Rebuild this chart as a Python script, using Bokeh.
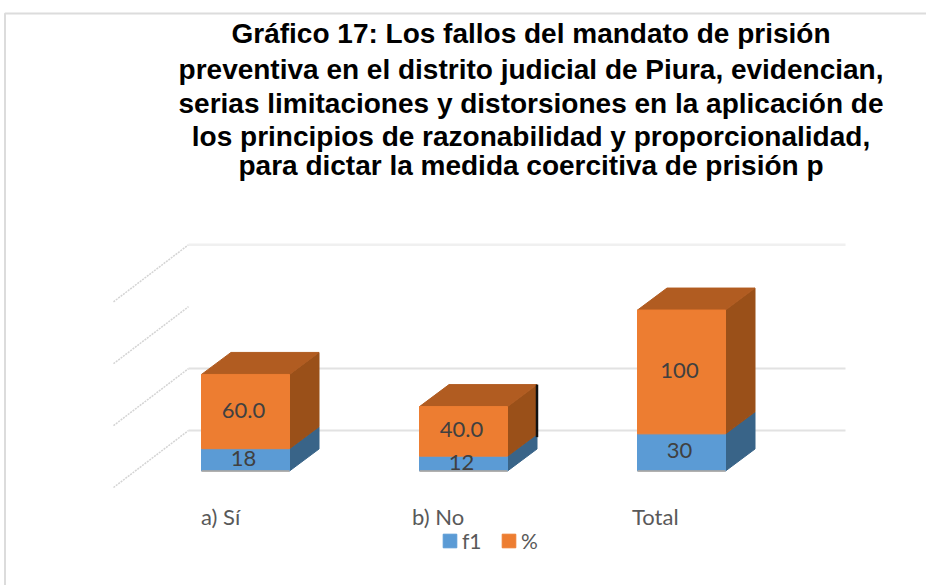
from bokeh.plotting import figure
from bokeh.models import ColumnDataSource, Legend, LegendItem
from bokeh.core.properties import value
from bokeh.embed import file_html
from bokeh.resources import INLINE

title_lines = [
    "Gráfico 17: Los fallos del mandato de prisión",
    "preventiva en el distrito judicial de Piura, evidencian,",
    "serias limitaciones y distorsiones en la aplicación de",
    "los principios de razonabilidad y proporcionalidad,",
    "para dictar la medida coercitiva de prisión p",
]
categories = ["a) Sí", "b) No", "Total"]
f1 = [18, 12, 30]
pct = [60.0, 40.0, 100]
f1_labels = ["18", "12", "30"]
pct_labels = ["60.0", "40.0", "100"]
wall_ticks = [0, 50, 100, 150]
wall_lines = [0, 50, 150]

W, H = 926, 585
X0, SX = 245.0, 218.0      # page px of first category, px per category
Y0, SY = 470.5, 1.238      # page px of value 0 on the front plane, px per unit
def dx(px): return px / SX
def dy(px): return px / SY
def X(px): return (px - X0) / SX
def Y(py): return (Y0 - py) / SY

p = figure(width=W, height=H, output_backend="svg", toolbar_location=None,
           x_range=(X(0), X(W)), y_range=(Y(H), Y(0)), min_border=0)
p.axis.visible = False
p.grid.visible = False
p.outline_line_color = None
p.background_fill_color = "white"

# chart frame
p.line([X(926), X(4.5), X(4.5)], [Y(13), Y(13), Y(585)], line_color="#dcdcdc", line_width=2)

# 3D wall
wall = dy(40.5)
for v in wall_ticks:
    p.line([X(113), X(188)], [v + wall - dy(57), v + wall], line_color="#d4d4d4",
           line_width=1.5, line_dash="2 1")
for v in wall_lines:
    col = "#f0f0f0" if v == 150 else "#e2e2e2"
    p.line([X(188), X(845)], [v + wall, v + wall], line_color=col, line_width=2.5 if v == 150 else 2)

half = dx(44)
ddx, ddy = dx(29.5), dy(22)
idx = list(range(len(categories)))

def side(i, a, b):
    r = i + half
    return [r, r + ddx, r + ddx, r], [a, a + ddy, b + ddy, b]
def top(i, b):
    l, r = i - half, i + half
    return [l, l + ddx, r + ddx, r], [b, b + ddy, b + ddy, b]

blue_side = [side(i, 0, f1[i]) for i in idx]
or_side = [side(i, f1[i], f1[i] + pct[i]) for i in idx]
tops = [top(i, f1[i] + pct[i]) for i in idx]
p.patches([s[0] for s in blue_side], [s[1] for s in blue_side], fill_color="#396488", line_color="#396488")
p.patches([s[0] for s in or_side], [s[1] for s in or_side], fill_color="#9A5019", line_color="#9A5019")
p.patches([s[0] for s in tops], [s[1] for s in tops], fill_color="#B15C21", line_color="#B15C21")

# artefact on the back edge of the middle column
p.line([1 + half + ddx] * 2, [f1[1] + ddy - dy(3), f1[1] + pct[1] + ddy], line_color="#111111", line_width=2.5)

src = ColumnDataSource(dict(x=idx, f1=f1, pct=pct, tot=[a + b for a, b in zip(f1, pct)],
                            f1_mid=[a / 2 for a in f1],
                            pct_mid=[a + b / 2 for a, b in zip(f1, pct)],
                            f1_lab=f1_labels, pct_lab=pct_labels))
r1 = p.vbar(x="x", width=2 * half, bottom=0, top="f1", source=src, fill_color="#5B9BD5", line_color="#5B9BD5")
r2 = p.vbar(x="x", width=2 * half, bottom="f1", top="tot", source=src, fill_color="#ED7D31", line_color="#ED7D31")
p.segment(x0=[i - half for i in idx], x1=[i + half for i in idx], y0=[0] * 3, y1=[0] * 3,
          line_color="#b3a79c", line_width=1.5)

lab = dict(text_font=value("Lato"), text_font_size="22px", text_color="#404040",
           text_align="center", text_baseline="middle", x_offset=-2, y_offset=-1.5)
p.text(x="x", y="f1_mid", text="f1_lab", source=src, **lab)
p.text(x="x", y="pct_mid", text="pct_lab", source=src, **lab)

# category labels
cat_px = [200.5, 411.5, 631.5]
p.text(x=[X(c) for c in cat_px], y=[Y(516)] * 3, text=categories, text_font=value("Lato"),
       text_font_size="22px", text_color="#595959", text_align="left", text_baseline="middle")

# title
title_py = [33, 69, 103, 136, 165]
p.text(x=[X(530.5)] * 5, y=[Y(t) for t in title_py], text=title_lines, text_font=value("Liberation Sans"),
       text_font_style="bold", text_font_size="28px", text_color="black",
       text_align="center", text_baseline="middle")

legend = Legend(items=[LegendItem(label="f1", renderers=[r1]), LegendItem(label="%", renderers=[r2])],
                orientation="horizontal", location=(441, H - 553), border_line_color=None,
                background_fill_alpha=0, padding=0, margin=0, spacing=18, glyph_width=17, glyph_height=17,
                label_standoff=4, label_text_font="Lato", label_text_font_size="21px", label_text_color="#595959")
p.add_layout(legend)

open("out.html", "w").write(file_html(p, INLINE))
